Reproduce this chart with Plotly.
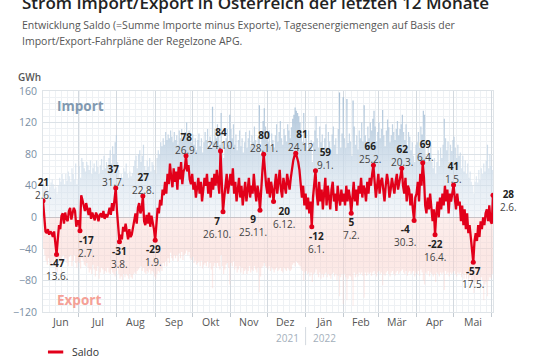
import pandas as pd
import plotly.graph_objects as go

start_date = "2021-06-02"

# Saldo (GWh per day), month by month
saldo_jun21 = [21, 5, -18, -20, -15, -22, -18, -20, -25, -18, -30, -47, -28, -10, -15, 2, 5, -8, 6, -2, -5, 8, 12, -3, 5, 12, 8, -12, -5]
saldo_jul21 = [-5, -17, 28, 22, 15, 8, 18, 10, 3, 12, -2, 6, 2, -4, 6, 2, -5, 3, 5, 0, 8, -2, 4, 0, 5, 12, 3, 18, 8, 22, 37]
saldo_aug21 = [8, -12, -31, -22, -28, -12, -18, -8, -20, -28, -15, -25, -22, -12, -2, 5, -8, 12, 18, 5, 10, 27, -5, -10, 3, -8, 6, -12, 2, -6, -15]
saldo_sep21 = [-29, -5, 12, 5, 22, 15, 35, 28, 45, 30, 55, 42, 68, 50, 38, 62, 45, 58, 35, 64, 48, 70, 42, 58, 62, 78, 58, 66, 48, 42]
saldo_oct21 = [55, 35, 45, 25, 40, 50, 30, 45, 20, 35, 50, 40, 55, 30, 45, 25, 50, 35, 55, 40, 60, 45, 30, 84, 35, 7, 25, 40, 55, 30, 45]
saldo_nov21 = [55, 40, 62, 30, 45, 20, 35, 50, 25, 40, 15, 30, 45, 20, 35, 50, 25, 40, 30, 55, 35, 20, 40, 30, 9, 45, 60, 80, 55, 40]
saldo_dec21 = [30, 50, 25, 45, 35, 20, 40, 55, 30, 45, 60, 35, 25, 50, 40, 30, 55, 45, 35, 50, 65, 72, 78, 81, 76, 70, 60, 45, 25, 40, 15]
saldo_jan22 = [30, 10, 25, 5, 20, -12, 25, 40, 59, 30, 15, 45, 20, 35, 10, 30, 50, 15, 40, 25, 10, 35, 45, 20, 30, 8, 40, 25, 15, 35, 20]
saldo_feb22 = [30, 15, 40, 20, 35, 25, 5, 30, 45, 20, 35, 15, 40, 30, 50, 25, 40, 35, 20, 45, 30, 50, 40, 55, 66, 45, 25, 40]
saldo_mar22 = [55, 30, 45, 50, 35, 20, 40, 55, 45, 25, 35, 50, 40, 30, 45, 55, 35, 45, 50, 62, 40, 30, 50, 20, 40, 35, 15, 30, 10, -4, 25]
saldo_apr22 = [30, 45, 20, 55, 40, 69, 50, 15, 5, 25, 10, 30, 5, -5, 10, -22, 5, 20, 0, 25, 10, 30, 15, 40, 20, 35, 5, 30, 20, 35]
saldo_may22 = [41, 25, 10, 30, 15, 20, -5, 15, -10, 10, -15, 5, -20, -10, -25, -35, -57, -30, -20, -30, -10, -25, -5, -15, 0, -10, 5, 10, -5, 15, -5]
saldo_jun22 = [-8, 28]

# Daily imports (background, positive)
import_jun21 = [45, 40, 36, 40, 34, 38, 44, 48, 42, 36, 38, 30, 40, 50, 45, 55, 48, 42, 55, 46, 58, 52, 45, 62, 55, 48, 68, 42, 48]
import_jul21 = [65, 50, 75, 70, 62, 58, 70, 66, 60, 72, 55, 62, 68, 58, 72, 64, 55, 66, 74, 60, 78, 62, 70, 66, 75, 85, 68, 90, 80, 95, 104]
import_aug21 = [70, 60, 45, 55, 50, 62, 58, 68, 55, 50, 58, 52, 56, 65, 72, 78, 62, 80, 85, 70, 78, 92, 65, 60, 72, 64, 75, 58, 70, 66, 60]
import_sep21 = [55, 75, 85, 80, 95, 90, 100, 92, 108, 98, 105, 100, 110, 102, 95, 108, 98, 104, 92, 110, 100, 112, 96, 105, 108, 120, 104, 110, 98, 95]
import_oct21 = [105, 92, 100, 85, 98, 106, 90, 100, 82, 95, 108, 98, 112, 90, 102, 88, 140, 95, 112, 100, 118, 104, 92, 132, 95, 75, 88, 100, 112, 92, 130]
import_nov21 = [112, 100, 118, 92, 105, 85, 98, 110, 90, 100, 82, 95, 108, 88, 100, 110, 90, 104, 95, 115, 98, 86, 102, 142, 80, 108, 122, 138, 115, 102]
import_dec21 = [95, 110, 90, 106, 98, 88, 104, 118, 96, 108, 122, 100, 92, 112, 104, 96, 118, 110, 100, 114, 125, 130, 139, 135, 132, 128, 120, 108, 95, 132, 92]
import_jan22 = [100, 85, 110, 92, 98, 70, 95, 110, 128, 100, 88, 115, 95, 105, 82, 100, 118, 88, 108, 96, 85, 105, 115, 92, 100, 80, 112, 158, 88, 106, 152]
import_feb22 = [100, 88, 150, 94, 106, 96, 78, 148, 115, 92, 104, 86, 110, 100, 120, 96, 142, 104, 92, 115, 100, 120, 110, 125, 135, 115, 96, 108]
import_mar22 = [120, 100, 112, 136, 104, 90, 110, 124, 114, 95, 104, 118, 108, 98, 112, 122, 104, 112, 118, 130, 108, 98, 118, 90, 108, 102, 85, 95, 78, 70, 92]
import_apr22 = [95, 108, 88, 115, 105, 135, 130, 78, 70, 88, 76, 92, 70, 62, 75, 55, 70, 85, 65, 88, 75, 92, 125, 100, 85, 96, 70, 92, 84, 98]
import_may22 = [102, 88, 75, 92, 78, 82, 62, 78, 58, 72, 55, 68, 50, 58, 45, 40, 30, 45, 52, 44, 60, 48, 62, 55, 68, 58, 72, 92, 62, 80, 65]
import_jun22 = [60, 90]

# Daily exports (background, negative)
export_jun21 = [-40, -48, -55, -60, -52, -58, -62, -55, -60, -52, -66, -70, -62, -55, -58, -50, -48, -56, -52, -58, -62, -50, -48, -62, -55, -48, -58, -64, -56]
export_jul21 = [-58, -65, -52, -55, -60, -62, -58, -64, -70, -66, -72, -60, -66, -75, -68, -62, -78, -70, -64, -66, -72, -68, -70, -64, -70, -72, -66, -70, -72, -75, -68]
export_aug21 = [-64, -72, -78, -75, -80, -72, -76, -72, -74, -78, -72, -76, -78, -72, -70, -72, -68, -66, -64, -62, -68, -64, -70, -72, -68, -70, -66, -72, -68, -70, -75]
export_sep21 = [-78, -72, -68, -70, -65, -68, -58, -62, -56, -62, -52, -58, -45, -52, -55, -48, -52, -48, -56, -46, -52, -44, -54, -48, -46, -42, -48, -44, -52, -54]
export_oct21 = [-50, -58, -55, -60, -58, -56, -62, -55, -65, -60, -58, -62, -56, -64, -58, -66, -90, -62, -58, -64, -58, -62, -66, -48, -62, -72, -66, -60, -58, -64, -85]
export_nov21 = [-58, -62, -56, -66, -62, -70, -66, -62, -70, -64, -72, -68, -66, -72, -68, -62, -70, -66, -68, -62, -66, -70, -64, -95, -75, -64, -62, -58, -62, -64]
export_dec21 = [-66, -62, -68, -64, -66, -70, -66, -64, -68, -66, -64, -68, -70, -64, -66, -68, -64, -66, -68, -66, -60, -58, -62, -56, -58, -60, -62, -66, -68, -80, -70]
export_jan22 = [-68, -72, -70, -75, -70, -82, -72, -70, -66, -72, -76, -70, -78, -72, -76, -72, -70, -76, -72, -74, -78, -72, -70, -75, -72, -80, -74, -100, -76, -72, -110]
export_feb22 = [-72, -76, -105, -78, -74, -75, -80, -112, -70, -76, -72, -75, -70, -72, -70, -74, -102, -70, -74, -70, -72, -70, -74, -70, -68, -72, -75, -70]
export_mar22 = [-68, -72, -70, -86, -72, -74, -70, -68, -72, -75, -70, -68, -72, -74, -70, -68, -72, -70, -68, -66, -70, -72, -68, -74, -70, -68, -72, -70, -68, -75, -70]
export_apr22 = [-72, -68, -74, -66, -70, -80, -85, -70, -72, -68, -75, -70, -72, -75, -72, -82, -70, -72, -75, -70, -72, -70, -92, -68, -72, -70, -75, -70, -72, -70]
export_may22 = [-68, -72, -75, -70, -72, -70, -76, -72, -78, -70, -78, -72, -78, -75, -80, -82, -96, -82, -80, -82, -78, -80, -76, -80, -105, -85, -82, -100, -80, -76, -78]
export_jun22 = [-72, -68]

saldo = (saldo_jun21 + saldo_jul21 + saldo_aug21 + saldo_sep21 + saldo_oct21 + saldo_nov21 +
         saldo_dec21 + saldo_jan22 + saldo_feb22 + saldo_mar22 + saldo_apr22 + saldo_may22 + saldo_jun22)
imports = (import_jun21 + import_jul21 + import_aug21 + import_sep21 + import_oct21 + import_nov21 +
           import_dec21 + import_jan22 + import_feb22 + import_mar22 + import_apr22 + import_may22 + import_jun22)
exports = (export_jun21 + export_jul21 + export_aug21 + export_sep21 + export_oct21 + export_nov21 +
           export_dec21 + export_jan22 + export_feb22 + export_mar22 + export_apr22 + export_may22 + export_jun22)

dates = pd.date_range(start_date, periods=len(saldo), freq="D")

# Highlighted extremes
label_dates = ["2021-06-02", "2021-06-13", "2021-07-02", "2021-07-31", "2021-08-03", "2021-08-22",
               "2021-09-01", "2021-09-26", "2021-10-24", "2021-10-26", "2021-11-25", "2021-11-28",
               "2021-12-06", "2021-12-24", "2022-01-06", "2022-01-09", "2022-02-07", "2022-02-25",
               "2022-03-20", "2022-03-30", "2022-04-06", "2022-04-16", "2022-05-01", "2022-05-17",
               "2022-06-02"]
label_texts = ["2.6.", "13.6.", "2.7.", "31.7.", "3.8.", "22.8.", "1.9.", "26.9.", "24.10.", "26.10.",
               "25.11.", "28.11.", "6.12.", "24.12.", "6.1.", "9.1.", "7.2.", "25.2.", "20.3.", "30.3.",
               "6.4.", "16.4.", "1.5.", "17.5.", "2.6."]
label_side = ["above", "below", "below", "above", "below", "above", "below", "above", "above", "below",
              "below", "above", "below", "above", "below", "above", "below", "above", "above", "below",
              "above", "below", "above", "below", "right"]
label_dx = [0, 0, 7, -3, 0, 0, -2, 0, 0, -6, -7, 0, 10, 6, 5, 10, 0, -3, 0, -9, 3, 0, 0, 0, 0]

month_labels = ["Jun", "Jul", "Aug", "Sep", "Okt", "Nov", "Dez", "Jän", "Feb", "Mär", "Apr", "Mai"]
month_mid = ["2021-06-16", "2021-07-16", "2021-08-16", "2021-09-16", "2021-10-16", "2021-11-16",
             "2021-12-16", "2022-01-16", "2022-02-15", "2022-03-16", "2022-04-16", "2022-05-17"]
month_starts = ["2021-07-01", "2021-08-01", "2021-09-01", "2021-10-01", "2021-11-01", "2021-12-01",
                "2022-01-01", "2022-02-01", "2022-03-01", "2022-04-01", "2022-05-01", "2022-06-01"]
y_ticks = [-120, -80, -40, 0, 40, 80, 120, 160]

FONT = "Open Sans"
RED = "#e2001a"

fig = go.Figure()

fig.add_trace(go.Scatter(
    x=dates, y=imports, mode="lines", line=dict(width=0, shape="hv"),
    fill="tozeroy",
    fillgradient=dict(type="vertical", start=0, stop=160,
                      colorscale=[[0, "rgba(220,230,240,0.3)"], [0.35, "rgba(208,222,235,0.7)"],
                                  [1, "rgba(160,186,210,0.95)"]]),
    hoverinfo="skip", showlegend=False))

fig.add_trace(go.Scatter(
    x=dates, y=exports, mode="lines", line=dict(width=0, shape="hv"),
    fill="tozeroy",
    fillgradient=dict(type="vertical", start=-120, stop=0,
                      colorscale=[[0, "rgba(250,205,199,0.3)"], [0.6, "rgba(249,208,202,0.5)"],
                                  [1, "rgba(250,224,220,0.55)"]]),
    hoverinfo="skip", showlegend=False))

fig.add_trace(go.Scatter(
    x=dates, y=saldo, mode="lines", line=dict(color=RED, width=2.3),
    name="Saldo", showlegend=False))

lab_vals = [saldo[dates.get_loc(pd.Timestamp(d))] for d in label_dates]
fig.add_trace(go.Scatter(
    x=pd.to_datetime(label_dates), y=lab_vals, mode="markers",
    marker=dict(color=RED, size=5), showlegend=False, hoverinfo="skip"))

annotations = []
for d, v, t, side, dx in zip(label_dates, lab_vals, label_texts, label_side, label_dx):
    if side == "above":
        ys, xa, xs = 12.5, "center", dx
    elif side == "below":
        ys, xa, xs = -15.5, "center", dx
    else:
        ys, xa, xs = -5.5, "left", 5
    annotations.append(dict(x=d, y=v, xref="x", yref="y",
                            text=f"<b><span style='color:#222222'>{v}</span></b><br>{t}",
                            showarrow=False, xanchor=xa, yanchor="middle", xshift=xs, yshift=ys,
                            font=dict(family=FONT, size=10, color="#444444")))

for m, xm in zip(month_labels, month_mid):
    annotations.append(dict(x=xm, y=0, xref="x", yref="paper", text=m, showarrow=False,
                            yanchor="middle", yshift=-10,
                            font=dict(family=FONT, size=10.5, color="#555555")))

annotations += [
    dict(x="2022-01-01", y=0, xref="x", yref="paper", text="2021", showarrow=False,
         xanchor="right", yanchor="middle", xshift=-5, yshift=-26,
         font=dict(family=FONT, size=10, color="#a3afbb")),
    dict(x="2022-01-01", y=0, xref="x", yref="paper", text="2022", showarrow=False,
         xanchor="left", yanchor="middle", xshift=5, yshift=-26,
         font=dict(family=FONT, size=10, color="#a3afbb")),
    dict(x=-0.0511, y=1.4027, xref="paper", yref="paper", xanchor="left", yanchor="middle",
         text="Strom Import/Export in Österreich der letzten 12 Monate", showarrow=False,
         font=dict(family=FONT, size=17, color="#222222", weight=600)),
    dict(x=-0.0511, y=1.2986, xref="paper", yref="paper", xanchor="left", yanchor="middle",
         text="Entwicklung Saldo (=Summe Importe minus Exporte), Tagesenergiemengen auf Basis der",
         showarrow=False, font=dict(family=FONT, size=10.5, color="#555555")),
    dict(x=-0.0511, y=1.2262, xref="paper", yref="paper", xanchor="left", yanchor="middle",
         text="Import/Export-Fahrpläne der Regelzone APG.",
         showarrow=False, font=dict(family=FONT, size=10.5, color="#555555")),
    dict(x=-0.0289, y=1.0633, xref="paper", yref="paper", xanchor="center", yanchor="middle",
         text="GWh", showarrow=False, font=dict(family=FONT, size=10, color="#555555", weight=600)),
    dict(x=0.0267, y=0.932, xref="paper", yref="paper", xanchor="left", yanchor="middle",
         text="<b>Import</b>", showarrow=False, font=dict(family=FONT, size=13.5, color="#8199b0")),
    dict(x=0.0267, y=0.054, xref="paper", yref="paper", xanchor="left", yanchor="middle",
         text="<b>Export</b>", showarrow=False, font=dict(family=FONT, size=13.5, color="#f5a096")),
    dict(x=0.06, y=-0.181, xref="paper", yref="paper", xanchor="left", yanchor="middle",
         text="Saldo", showarrow=False, font=dict(family=FONT, size=10.5, color="#333333")),
]

shapes = [
    dict(type="line", xref="x", yref="paper", x0="2022-01-01", x1="2022-01-01", y0=-0.068, y1=-0.15,
         line=dict(color="#d3d9df", width=1)),
    dict(type="line", xref="paper", yref="paper", x0=0.011, x1=0.045, y0=-0.181, y1=-0.181,
         line=dict(color=RED, width=3)),
]

fig.update_layout(
    width=540, height=360,
    margin=dict(l=43, r=47, t=91, b=48),
    paper_bgcolor="white", plot_bgcolor="white",
    font=dict(family=FONT),
    annotations=annotations, shapes=shapes,
    xaxis=dict(type="date", range=[dates[0], dates[-1]],
               tickmode="array", tickvals=month_starts, ticktext=[""] * len(month_starts),
               ticks="outside", ticklen=4, tickcolor="#c3cad1",
               showgrid=True, gridcolor="#d3d9df", gridwidth=1,
               minor=dict(tickmode="linear", tick0=start_date, dtick=5 * 86400000,
                          showgrid=True, gridcolor="#eef1f4", ticks=""),
               showline=True, linecolor="#dfe4e8", mirror=True, zeroline=False),
    yaxis=dict(range=[-120, 160], tickmode="array", tickvals=y_ticks,
               tickfont=dict(family=FONT, size=10.5, color="#7a8ea3"),
               showgrid=True, gridcolor="#dce2e7",
               zeroline=True, zerolinecolor="#a3abb3", zerolinewidth=1,
               minor=dict(tickmode="linear", tick0=0, dtick=8, showgrid=True,
                          gridcolor="#eef1f4", ticks=""),
               showline=True, linecolor="#dfe4e8", mirror=True, ticks="", ticklabelstandoff=3),
)

fig.write_html("out.html",
               config={"displayModeBar": False},
               post_script="document.body.style.margin='0';document.body.style.overflow='hidden';")
